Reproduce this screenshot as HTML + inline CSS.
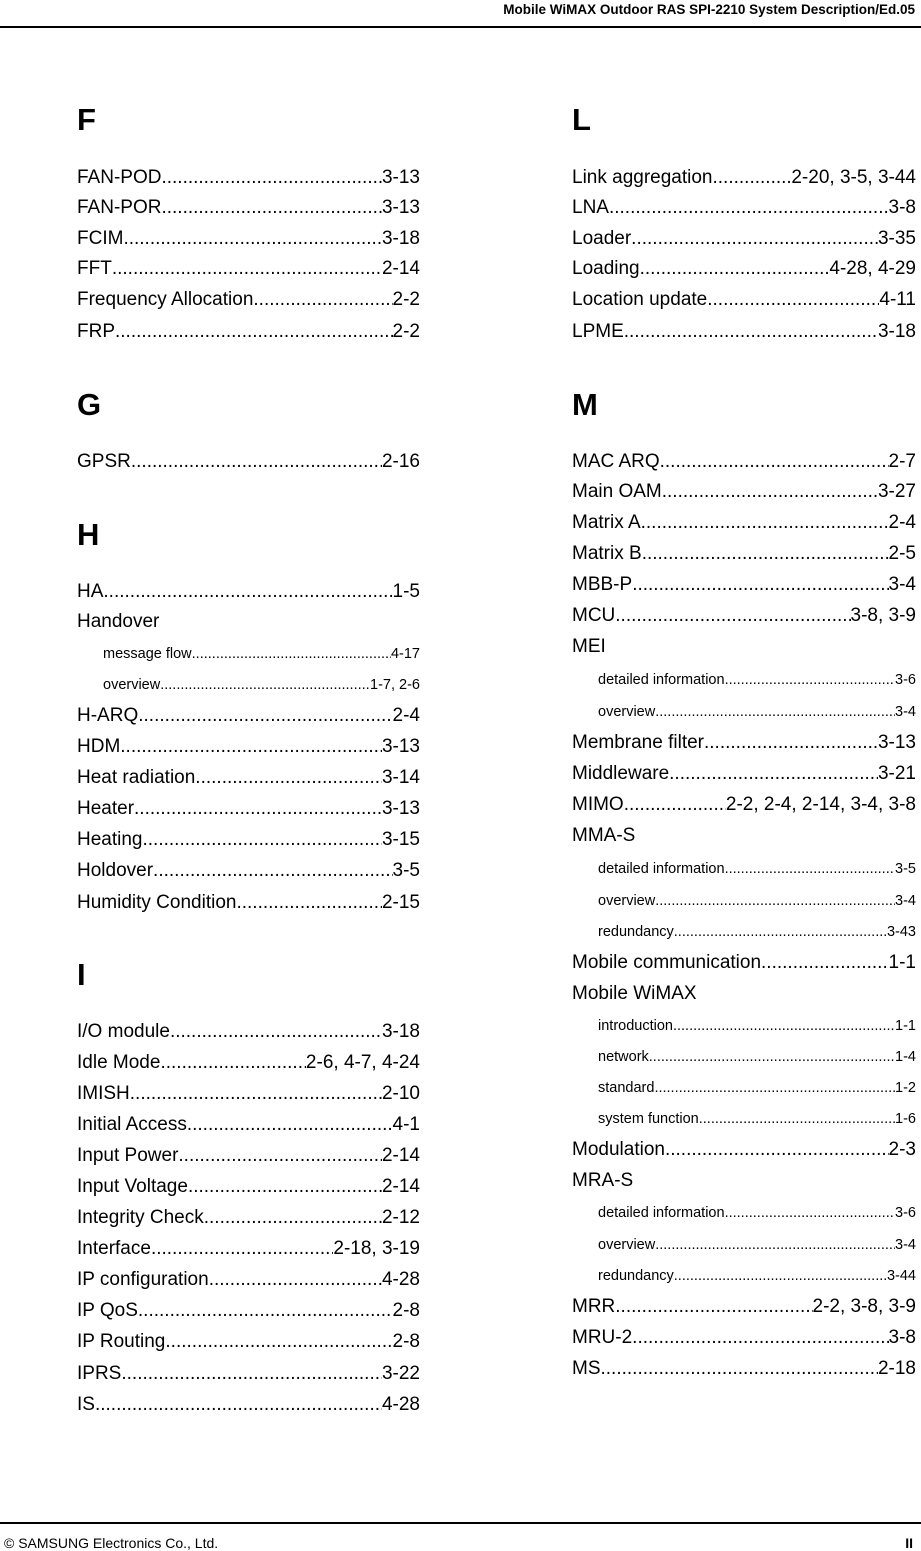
<!DOCTYPE html>
<html><head><meta charset="utf-8"><style>
body{margin:0;width:921px;height:1551px;background:#fff;position:relative;font-family:"Liberation Sans",Arial,sans-serif;color:#000;overflow:hidden}
.hdr{position:absolute;right:6px;top:2px;font-size:13.5px;font-weight:bold}
.ln{position:absolute;left:0;width:921px;height:2px;background:#000}
.ftl{position:absolute;left:4px;top:1535px;font-size:14px}
.ftr{position:absolute;right:8px;top:1535px;font-size:14px;font-weight:bold}
.h{position:absolute;font-size:31px;font-weight:bold;line-height:36px}
.e{position:absolute;display:flex;font-size:19px;line-height:24px;white-space:nowrap}
.e .d{flex:1;overflow:hidden}
.e .d::after{content:"........................................................................................................................................................"}
.s{font-size:14.5px;line-height:18px}
.L{left:77px;width:343px}
.R{left:572px;width:344px}
.Ls{left:103px;width:317px}
.Rs{left:598px;width:318px}
</style></head><body>
<div class="hdr">Mobile WiMAX Outdoor RAS SPI-2210 System Description/Ed.05</div>
<div class="ln" style="top:26px"></div>
<div class="ln" style="top:1522px"></div>
<div class="ftl">© SAMSUNG Electronics Co., Ltd.</div>
<div class="ftr">II</div>

<div class="h" style="left:77px;top:102px">F</div>
<div class="e L" style="top:166px"><span>FAN-POD</span><span class="d"></span><span>3-13</span></div>
<div class="e L" style="top:196px"><span>FAN-POR</span><span class="d"></span><span>3-13</span></div>
<div class="e L" style="top:227px"><span>FCIM</span><span class="d"></span><span>3-18</span></div>
<div class="e L" style="top:257px"><span>FFT </span><span class="d"></span><span>2-14</span></div>
<div class="e L" style="top:288px"><span>Frequency Allocation </span><span class="d"></span><span>2-2</span></div>
<div class="e L" style="top:320px"><span>FRP</span><span class="d"></span><span>2-2</span></div>
<div class="h" style="left:77px;top:387px">G</div>
<div class="e L" style="top:450px"><span>GPSR</span><span class="d"></span><span>2-16</span></div>
<div class="h" style="left:77px;top:517px">H</div>
<div class="e L" style="top:580px"><span>HA</span><span class="d"></span><span>1-5</span></div>
<div class="e L" style="top:610px"><span>Handover</span></div>
<div class="e s Ls" style="top:645px"><span>message flow </span><span class="d"></span><span>4-17</span></div>
<div class="e s Ls" style="top:676px"><span>overview </span><span class="d"></span><span>1-7, 2-6</span></div>
<div class="e L" style="top:704px"><span>H-ARQ </span><span class="d"></span><span>2-4</span></div>
<div class="e L" style="top:735px"><span>HDM</span><span class="d"></span><span>3-13</span></div>
<div class="e L" style="top:766px"><span>Heat radiation </span><span class="d"></span><span>3-14</span></div>
<div class="e L" style="top:797px"><span>Heater</span><span class="d"></span><span>3-13</span></div>
<div class="e L" style="top:828px"><span>Heating </span><span class="d"></span><span>3-15</span></div>
<div class="e L" style="top:859px"><span>Holdover </span><span class="d"></span><span>3-5</span></div>
<div class="e L" style="top:891px"><span>Humidity Condition</span><span class="d"></span><span>2-15</span></div>
<div class="h" style="left:77px;top:957px">I</div>
<div class="e L" style="top:1020px"><span>I/O module </span><span class="d"></span><span>3-18</span></div>
<div class="e L" style="top:1051px"><span>Idle Mode</span><span class="d"></span><span> 2-6, 4-7, 4-24</span></div>
<div class="e L" style="top:1082px"><span>IMISH</span><span class="d"></span><span>2-10</span></div>
<div class="e L" style="top:1113px"><span>Initial Access</span><span class="d"></span><span>4-1</span></div>
<div class="e L" style="top:1144px"><span>Input Power</span><span class="d"></span><span>2-14</span></div>
<div class="e L" style="top:1175px"><span>Input Voltage</span><span class="d"></span><span>2-14</span></div>
<div class="e L" style="top:1206px"><span>Integrity Check</span><span class="d"></span><span>2-12</span></div>
<div class="e L" style="top:1237px"><span>Interface</span><span class="d"></span><span>2-18, 3-19</span></div>
<div class="e L" style="top:1268px"><span>IP configuration</span><span class="d"></span><span>4-28</span></div>
<div class="e L" style="top:1299px"><span>IP QoS </span><span class="d"></span><span>2-8</span></div>
<div class="e L" style="top:1330px"><span>IP Routing</span><span class="d"></span><span>2-8</span></div>
<div class="e L" style="top:1362px"><span>IPRS</span><span class="d"></span><span>3-22</span></div>
<div class="e L" style="top:1393px"><span>IS</span><span class="d"></span><span>4-28</span></div>

<div class="h" style="left:572px;top:102px">L</div>
<div class="e R" style="top:166px"><span>Link aggregation</span><span class="d"></span><span> 2-20, 3-5, 3-44</span></div>
<div class="e R" style="top:196px"><span>LNA</span><span class="d"></span><span>3-8</span></div>
<div class="e R" style="top:227px"><span>Loader</span><span class="d"></span><span>3-35</span></div>
<div class="e R" style="top:257px"><span>Loading</span><span class="d"></span><span>4-28, 4-29</span></div>
<div class="e R" style="top:288px"><span>Location update </span><span class="d"></span><span> 4-11</span></div>
<div class="e R" style="top:320px"><span>LPME</span><span class="d"></span><span>3-18</span></div>
<div class="h" style="left:572px;top:387px">M</div>
<div class="e R" style="top:450px"><span>MAC ARQ </span><span class="d"></span><span>2-7</span></div>
<div class="e R" style="top:480px"><span>Main OAM</span><span class="d"></span><span>3-27</span></div>
<div class="e R" style="top:511px"><span>Matrix A</span><span class="d"></span><span>2-4</span></div>
<div class="e R" style="top:542px"><span>Matrix B</span><span class="d"></span><span>2-5</span></div>
<div class="e R" style="top:573px"><span>MBB-P </span><span class="d"></span><span>3-4</span></div>
<div class="e R" style="top:604px"><span>MCU</span><span class="d"></span><span>3-8, 3-9</span></div>
<div class="e R" style="top:635px"><span>MEI</span></div>
<div class="e s Rs" style="top:671px"><span>detailed information</span><span class="d"></span><span>3-6</span></div>
<div class="e s Rs" style="top:703px"><span>overview</span><span class="d"></span><span>3-4</span></div>
<div class="e R" style="top:731px"><span>Membrane filter</span><span class="d"></span><span>3-13</span></div>
<div class="e R" style="top:762px"><span>Middleware </span><span class="d"></span><span>3-21</span></div>
<div class="e R" style="top:793px"><span>MIMO </span><span class="d"></span><span>2-2, 2-4, 2-14, 3-4, 3-8</span></div>
<div class="e R" style="top:824px"><span>MMA-S</span></div>
<div class="e s Rs" style="top:860px"><span>detailed information</span><span class="d"></span><span>3-5</span></div>
<div class="e s Rs" style="top:892px"><span>overview</span><span class="d"></span><span>3-4</span></div>
<div class="e s Rs" style="top:923px"><span>redundancy </span><span class="d"></span><span>3-43</span></div>
<div class="e R" style="top:951px"><span>Mobile communication</span><span class="d"></span><span>1-1</span></div>
<div class="e R" style="top:982px"><span>Mobile WiMAX</span></div>
<div class="e s Rs" style="top:1017px"><span>introduction</span><span class="d"></span><span>1-1</span></div>
<div class="e s Rs" style="top:1048px"><span>network </span><span class="d"></span><span>1-4</span></div>
<div class="e s Rs" style="top:1079px"><span>standard </span><span class="d"></span><span>1-2</span></div>
<div class="e s Rs" style="top:1110px"><span>system function </span><span class="d"></span><span>1-6</span></div>
<div class="e R" style="top:1138px"><span>Modulation </span><span class="d"></span><span>2-3</span></div>
<div class="e R" style="top:1169px"><span>MRA-S</span></div>
<div class="e s Rs" style="top:1204px"><span>detailed information</span><span class="d"></span><span>3-6</span></div>
<div class="e s Rs" style="top:1236px"><span>overview</span><span class="d"></span><span>3-4</span></div>
<div class="e s Rs" style="top:1267px"><span>redundancy </span><span class="d"></span><span>3-44</span></div>
<div class="e R" style="top:1295px"><span>MRR</span><span class="d"></span><span> 2-2, 3-8, 3-9</span></div>
<div class="e R" style="top:1326px"><span>MRU-2 </span><span class="d"></span><span>3-8</span></div>
<div class="e R" style="top:1357px"><span>MS </span><span class="d"></span><span>2-18</span></div>
</body></html>
